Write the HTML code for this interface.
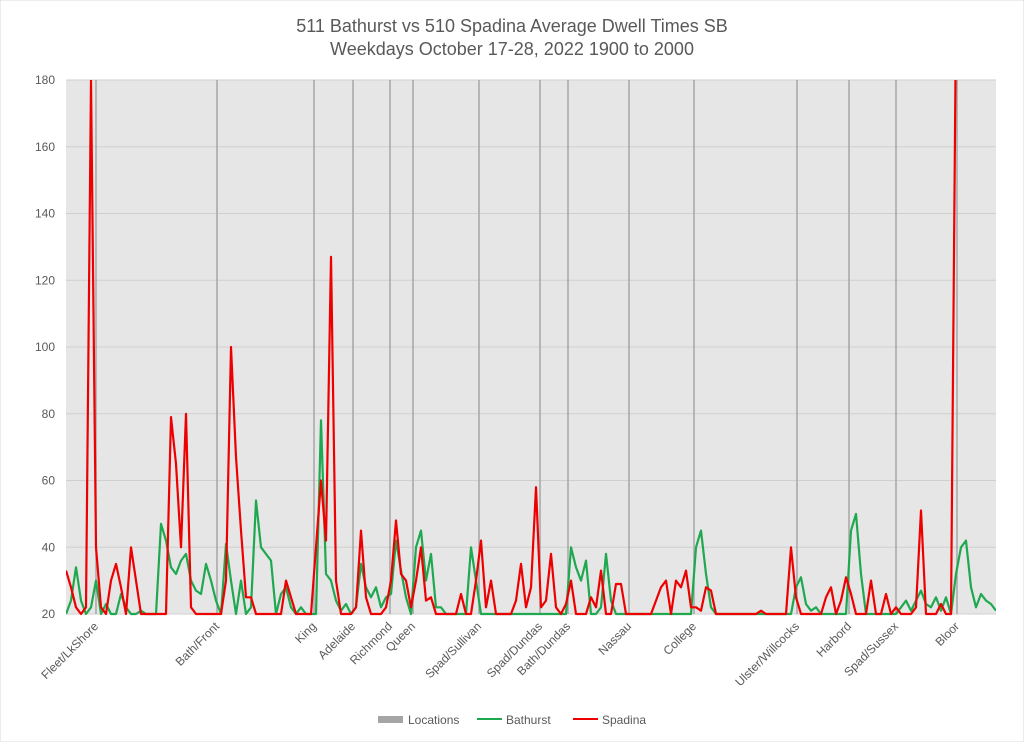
<!DOCTYPE html>
<html><head><meta charset="utf-8"><style>
body{margin:0;background:#fff;font-family:"Liberation Sans",sans-serif}
svg text{font-family:"Liberation Sans",sans-serif}
</style></head><body>
<svg id="chart" width="1024" height="742" viewBox="0 0 1024 742">
<rect x="0" y="0" width="1024" height="742" fill="#fff" stroke="#d9d9d9"/>
<text x="512" y="32" text-anchor="middle" font-size="18" fill="#595959">511 Bathurst vs 510 Spadina Average Dwell Times SB</text>
<text x="512" y="55" text-anchor="middle" font-size="18" fill="#595959">Weekdays October 17-28, 2022 1900 to 2000</text>
<rect x="66" y="80" width="930" height="534" fill="#e7e6e6"/>
<defs><clipPath id="clip"><rect x="66" y="80" width="930" height="536"/></clipPath></defs>
<g id="grid"></g><g id="locs"></g><g id="series" clip-path="url(#clip)"></g><g id="labels"></g>
<g>
<rect x="378" y="716" width="25" height="7" fill="#a5a5a5"/>
<text x="408" y="724" font-size="12" fill="#595959">Locations</text>
<line x1="477" y1="719" x2="502" y2="719" stroke="#1ea84f" stroke-width="2"/>
<text x="506" y="724" font-size="12" fill="#595959">Bathurst</text>
<line x1="573" y1="719" x2="598" y2="719" stroke="#ee0000" stroke-width="2"/>
<text x="602" y="724" font-size="12" fill="#595959">Spadina</text>
</g>
</svg>
<script>
const yTicks=[20,40,60,80,100,120,140,160,180];
const locNames=["Fleet/LkShore","Bath/Front","King","Adelaide","Richmond","Queen","Spad/Sullivan","Spad/Dundas","Bath/Dundas","Nassau","College","Ulster/Willcocks","Harbord","Spad/Sussex","Bloor"];
const locPos=[6,30.2,49.6,57.4,64.8,69.4,82.6,94.8,100.4,112.6,125.6,146.2,156.6,166,178.2];
const bathurst=[20,24,34,24,20,22,30,20,23,20,20,26,22,20,20,21,20,20,20,47,42,34,32,36,38,30,27,26,35,30,24,20,41,30,20,30,20,22,54,40,38,36,20,26,28,22,20,22,20,20,20,78,32,30,24,21,23,20,22,35,28,25,28,22,25,26,42,33,25,20,40,45,30,38,22,22,20,20,20,20,20,40,30,20,20,20,20,20,20,20,20,20,20,20,20,20,20,20,20,20,20,40,34,30,36,20,20,22,38,24,20,20,20,20,20,20,20,20,20,20,20,20,20,20,20,20,40,45,32,22,20,20,20,20,20,20,20,20,20,20,20,20,20,20,20,20,28,31,23,21,22,20,20,20,20,20,20,45,50,32,20,20,20,20,20,20,20,22,24,21,24,27,23,22,25,21,25,20,32,40,42,28,22,26,24,23,21];
const spadina=[33,28,22,20,22,180,40,22,20,30,35,28,20,40,30,20,20,20,20,20,20,79,65,40,80,22,20,20,20,20,20,20,30,100,67,45,25,25,20,20,20,20,20,20,30,25,20,20,20,20,40,60,42,127,30,20,20,20,22,45,25,20,20,20,22,30,48,32,30,22,30,40,24,25,20,20,20,20,20,26,20,20,30,42,22,30,20,20,20,20,24,35,22,28,58,22,24,38,22,20,23,30,20,20,20,25,22,33,20,20,29,29,20,20,20,20,20,20,24,28,30,20,30,28,33,22,22,21,28,27,20,20,20,20,20,20,20,20,20,21,20,20,20,20,20,40,25,20,20,20,20,20,25,28,20,24,31,26,20,20,20,30,20,20,26,20,22,20,20,20,22,51,20,20,20,23,20,20,200,null,null,null,null,null,null,null,null];
const NS="http://www.w3.org/2000/svg";
const X0=66,X1=996,Y0=614,Y1=80,N=187;
function xs(i){return X0+i*(X1-X0)/(N-1);}
function ys(v){return Y0-(v-20)*(Y0-Y1)/160;}
function mk(t,a,p){const e=document.createElementNS(NS,t);for(const k in a)e.setAttribute(k,a[k]);p.appendChild(e);return e;}
const grid=document.getElementById('grid');
yTicks.forEach(v=>{
 const l=mk('line',{x1:X0,x2:X1,y1:ys(v),y2:ys(v),stroke:'#d0cfcf','stroke-width':1},grid);
 
 
 const t=mk('text',{x:55,y:ys(v)+4,'text-anchor':'end','font-size':12,fill:'#595959'},grid);
 t.textContent=v;
 
 
});
const locs=document.getElementById('locs'),labels=document.getElementById('labels');
locPos.forEach((p,k)=>{
 const x=xs(p);
 const l=mk('line',{x1:x,x2:x,y1:Y1,y2:Y0,stroke:'#a5a5a5','stroke-width':1.5},locs);
 
 
 const t=mk('text',{x:x+3,y:627,'text-anchor':'end','font-size':12,fill:'#595959',transform:`rotate(-45 ${x+3} 627)`},labels);
 t.textContent=locNames[k];
 
 
});
const ser=document.getElementById('series');
function line(arr,color,name){
 let d='',pen=false;
 arr.forEach((v,i)=>{if(v===null){pen=false;return;}d+=(pen?'L':'M')+xs(i).toFixed(1)+' '+ys(v).toFixed(1)+' ';pen=true;});
 const p=mk('path',{d:d,fill:'none',stroke:color,'stroke-width':2.2,'stroke-linejoin':'round'},ser);
 
 
}
line(bathurst,'#1ea84f','bathurst-line');
line(spadina,'#ee0000','spadina-line');
</script>
</body></html>
